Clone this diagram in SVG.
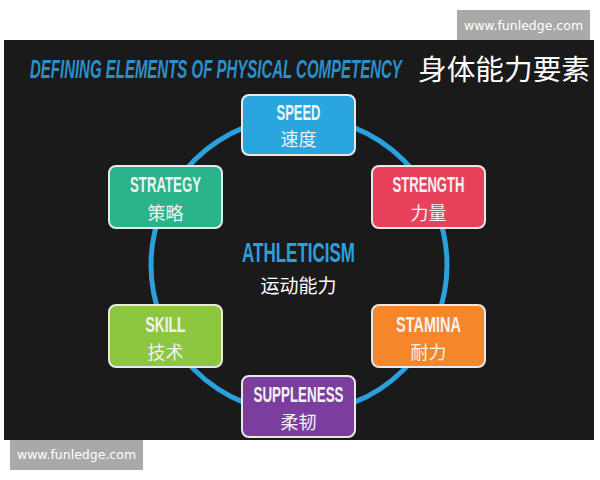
<svg xmlns="http://www.w3.org/2000/svg" width="600" height="480" viewBox="0 0 600 480">
<style>
.en{font-family:"Liberation Sans","DejaVu Sans",sans-serif;font-weight:bold;fill:#f2f2f2;text-anchor:middle;font-size:22px}
.zh{font-family:"Noto Sans CJK SC","Noto Sans",sans-serif;fill:#f2f2f2;text-anchor:middle;font-size:18px}
.box{stroke:#e8e8e8;stroke-width:2}
.wm{font-family:"DejaVu Sans","Liberation Sans",sans-serif;font-size:12.5px;fill:#ffffff;text-anchor:middle}
</style>
<rect width="600" height="480" fill="#ffffff"/>
<rect x="4" y="40" width="590" height="400" fill="#1b1a1a"/>
<rect x="457" y="10" width="133" height="30" fill="#a9a9a9"/>
<text class="wm" x="523.5" y="30">www.funledge.com</text>
<rect x="10" y="440" width="133" height="30" fill="#a9a9a9"/>
<text class="wm" x="76.5" y="459">www.funledge.com</text>
<g transform="translate(30,78) scale(0.55,1)">
<text x="0" y="0" font-family="Liberation Sans,sans-serif" font-weight="bold" font-style="italic" font-size="25" fill="#2b8fcb" textLength="676" lengthAdjust="spacingAndGlyphs">DEFINING ELEMENTS OF PHYSICAL COMPETENCY</text>
</g>
<text x="418" y="80" font-family="Noto Sans CJK SC,sans-serif" font-size="28" fill="#ffffff" textLength="172" lengthAdjust="spacingAndGlyphs">身体能力要素</text>
<g id="connectors">
<circle cx="299" cy="265" r="148" fill="none" stroke="#2aa0dc" stroke-width="5"/>
</g>
<g id="center">
<text x="298.5" y="262" font-family="Liberation Sans,sans-serif" font-weight="bold" font-size="27" fill="#2aa0dc" text-anchor="middle" textLength="113" lengthAdjust="spacingAndGlyphs">ATHLETICISM</text>
<text x="298.5" y="293" font-family="Noto Sans CJK SC,sans-serif" font-size="19" fill="#ffffff" text-anchor="middle">运动能力</text>
</g>
<g id="speed">
<rect class="box" x="242" y="95" width="113" height="60" rx="7" fill="#29a6df"/>
<text class="en" x="298.5" y="120" textLength="44" lengthAdjust="spacingAndGlyphs">SPEED</text>
<text class="zh" x="298.5" y="146">速度</text>
</g>
<g id="strategy">
<rect class="box" x="109" y="166" width="113" height="62" rx="7" fill="#2bb38c"/>
<text class="en" x="165.5" y="192" textLength="71" lengthAdjust="spacingAndGlyphs">STRATEGY</text>
<text class="zh" x="165.5" y="220">策略</text>
</g>
<g id="strength">
<rect class="box" x="372" y="166" width="113" height="62" rx="7" fill="#e8415b"/>
<text class="en" x="428.5" y="192" textLength="72" lengthAdjust="spacingAndGlyphs">STRENGTH</text>
<text class="zh" x="428.5" y="220">力量</text>
</g>
<g id="skill">
<rect class="box" x="109" y="305" width="113" height="62" rx="7" fill="#8dc63f"/>
<text class="en" x="165.5" y="332" textLength="40" lengthAdjust="spacingAndGlyphs">SKILL</text>
<text class="zh" x="165.5" y="359">技术</text>
</g>
<g id="stamina">
<rect class="box" x="372" y="305" width="113" height="62" rx="7" fill="#f6862a"/>
<text class="en" x="428.5" y="332" textLength="65" lengthAdjust="spacingAndGlyphs">STAMINA</text>
<text class="zh" x="428.5" y="359">耐力</text>
</g>
<g id="suppleness">
<rect class="box" x="242" y="376" width="113" height="61" rx="7" fill="#7b3e9e"/>
<text class="en" x="298.5" y="402" textLength="90" lengthAdjust="spacingAndGlyphs">SUPPLENESS</text>
<text class="zh" x="298.5" y="429">柔韧</text>
</g>
</svg>
